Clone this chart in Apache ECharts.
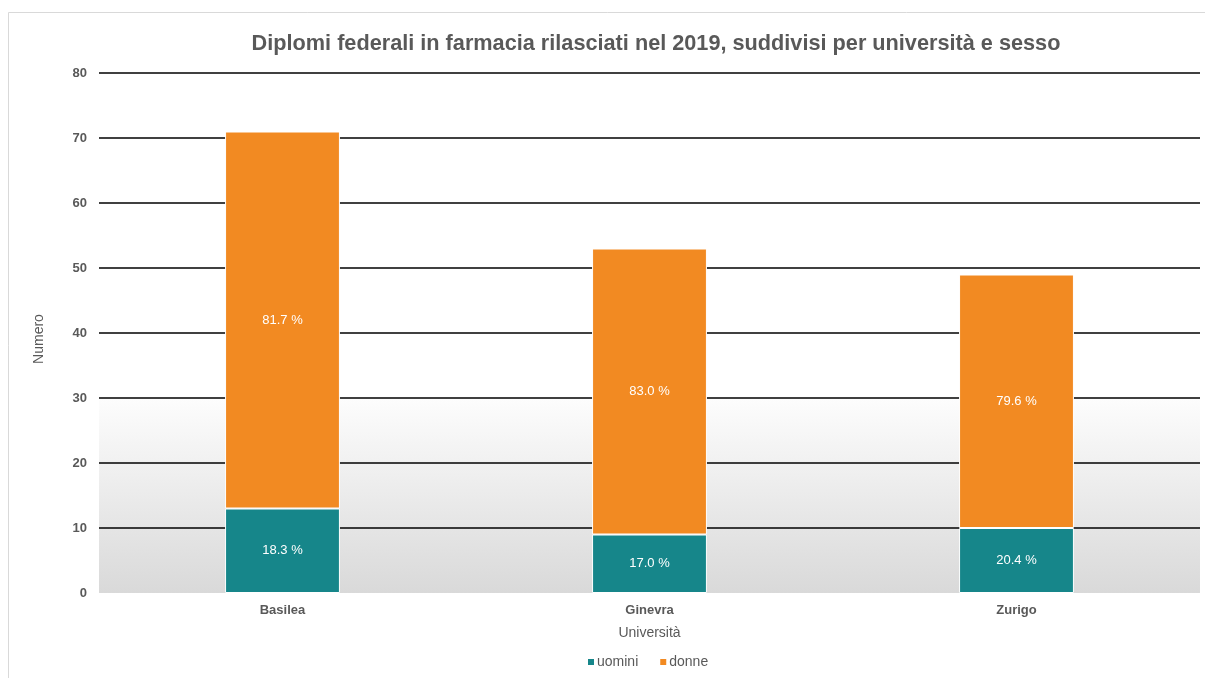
<!doctype html>
<html>
<head>
    <meta charset="utf-8">
    <title>Diplomi federali in farmacia</title>
    <script src="https://cdn.jsdelivr.net/npm/echarts@6/dist/echarts.min.js"></script>
    <style>
        html, body { margin: 0; padding: 0; background: #fff; }
        #chart { width: 1205px; height: 678px; }
    </style>
</head>
<body>
<div id="chart"></div>
<script type="text/javascript">
    // dati
    var universita = ['Basilea', 'Ginevra', 'Zurigo'];
    var uomini = [13, 9, 10];
    var donne = [58, 44, 39];
    var yTicks = [0, 10, 20, 30, 40, 50, 60, 70, 80];

    function pct(v, i) {
        var tot = uomini[i] + donne[i];
        return (v / tot * 100).toFixed(1) + ' %';
    }

    var myChart = echarts.init(document.getElementById('chart'));

    var option = {
        backgroundColor: '#fff',
        title: {
            text: 'Diplomi federali in farmacia rilasciati nel 2019, suddivisi per università e sesso',
            left: 651,
            top: 28,
            textAlign: 'center',
            textStyle: {
                fontFamily: 'Liberation Sans, Arial, sans-serif',
                fontSize: 21.7,
                fontWeight: 'bold',
                color: '#595959'
            }
        },
        graphic: [{
            type: 'rect',
            shape: { x: 8.5, y: 12.5, width: 1210, height: 700 },
            style: { fill: 'none', stroke: '#d9d9d9', lineWidth: 1 },
            silent: true
        }],
        legend: {
            data: ['uomini', 'donne'],
            bottom: 4,
            left: 581,
            itemWidth: 8,
            itemHeight: 8,
            itemGap: 20,
            icon: 'rect',
            textStyle: {
                fontFamily: 'Liberation Sans, Arial, sans-serif',
                fontSize: 14,
                color: '#595959',
                padding: [0, 0, 0, -3]
            }
        },
        grid: {
            left: 99,
            right: 5,
            top: 73,
            bottom: 85
        },
        xAxis: {
            type: 'category',
            data: universita,
            name: 'Università',
            nameLocation: 'middle',
            nameGap: 33,
            nameTextStyle: {
                fontFamily: 'Liberation Sans, Arial, sans-serif',
                fontSize: 14,
                color: '#595959'
            },
            axisLine: { show: false },
            axisTick: { show: false },
            axisLabel: {
                margin: 11,
                fontFamily: 'Liberation Sans, Arial, sans-serif',
                fontSize: 13,
                fontWeight: 'bold',
                color: '#595959'
            }
        },
        yAxis: {
            type: 'value',
            min: yTicks[0],
            max: yTicks[yTicks.length - 1],
            interval: 10,
            name: 'Numero',
            nameLocation: 'middle',
            nameGap: 53,
            nameTextStyle: {
                fontFamily: 'Liberation Sans, Arial, sans-serif',
                fontSize: 14,
                color: '#595959',
                padding: [0, 12, 0, 0]
            },
            axisLine: { show: false },
            axisTick: { show: false },
            axisLabel: {
                margin: 12,
                fontFamily: 'Liberation Sans, Arial, sans-serif',
                fontSize: 13,
                fontWeight: 'bold',
                color: '#595959'
            },
            splitLine: {
                showMinLine: false,
                lineStyle: { color: '#000', width: 1.5 }
            }
        },
        series: [{
            name: 'uomini',
            type: 'bar',
            stack: 'tot',
            barWidth: '31.3%',
            data: uomini,
            itemStyle: {
                color: '#16868a',
                borderColor: '#fff',
                borderWidth: 1
            },
            label: {
                show: true,
                position: 'inside',
                color: '#fff',
                fontFamily: 'Liberation Sans, Arial, sans-serif',
                fontSize: 13,
                formatter: function(p) { return pct(p.value, p.dataIndex); }
            },
            markArea: {
                silent: true,
                z: -1,
                itemStyle: {
                    color: new echarts.graphic.LinearGradient(0, 0, 0, 1, [
                        { offset: 0, color: '#fdfdfd' },
                        { offset: 1, color: '#d9d9d9' }
                    ])
                },
                data: [[{ yAxis: 0 }, { yAxis: 30 }]]
            }
        }, {
            name: 'donne',
            type: 'bar',
            stack: 'tot',
            data: donne,
            itemStyle: {
                color: '#f28a22',
                borderColor: '#fff',
                borderWidth: 1
            },
            label: {
                show: true,
                position: 'inside',
                color: '#fff',
                fontFamily: 'Liberation Sans, Arial, sans-serif',
                fontSize: 13,
                formatter: function(p) { return pct(p.value, p.dataIndex); }
            }
        }]
    };

    myChart.setOption(option);
</script>
</body>
</html>
